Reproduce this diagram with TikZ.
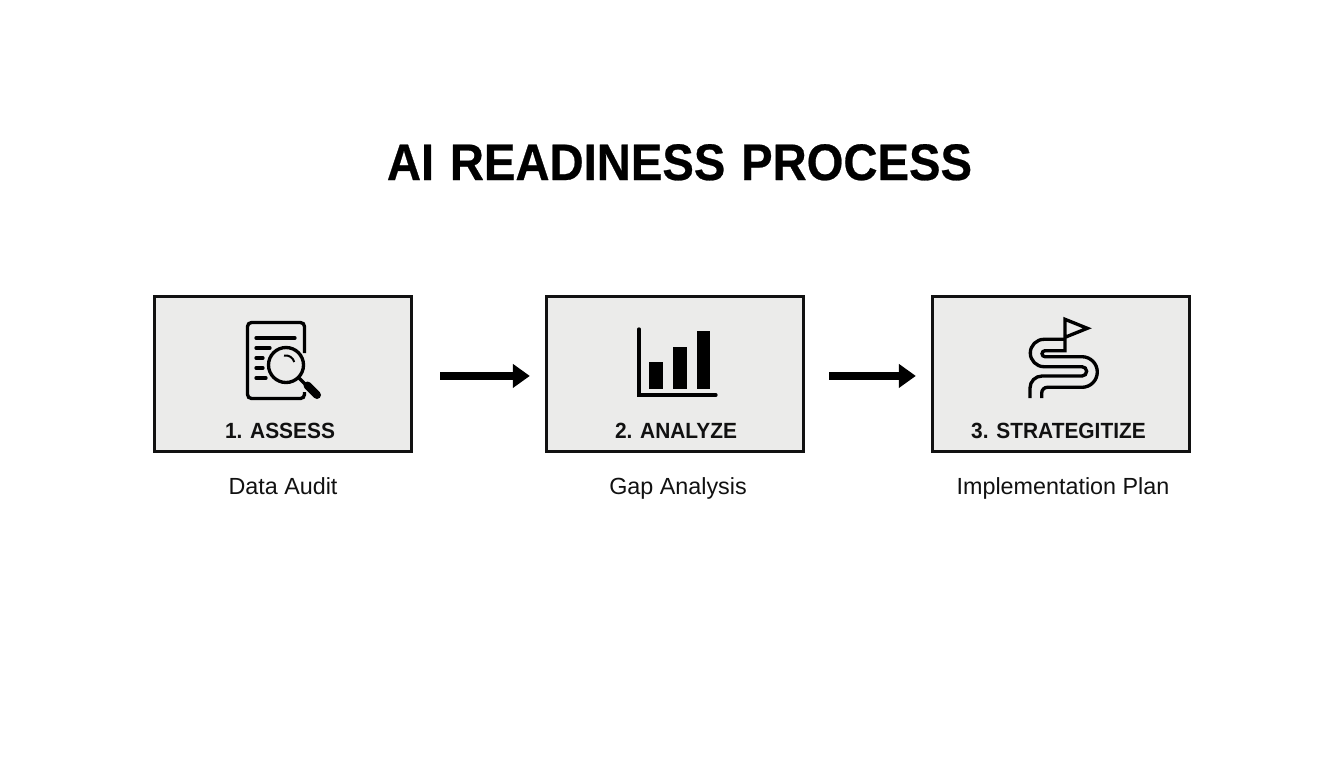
\documentclass[tikz,border=0pt]{standalone}
\usepackage{fontspec}
\setmainfont{Liberation Sans}
\usetikzlibrary{arrows.meta}
\definecolor{boxgray}{HTML}{EBEBEA}
\definecolor{inkblack}{HTML}{111111}
\newfontfamily\titlefont[FakeStretch=0.92,WordSpace=1.2,BoldFeatures={FakeBold=0.5}]{Liberation Sans}
\newfontfamily\stepfont[FakeStretch=0.95]{Liberation Sans}
\tikzset{
	stepbox/.style={draw=inkblack,fill=boxgray,line width=2.25pt,minimum width=193pt,minimum height=116.5pt,inner sep=0pt},
	steplabel/.style={anchor=base,text=inkblack,inner sep=0pt,font=\stepfont\fontsize{16.5}{20}\bfseries},
	caption/.style={anchor=base,text=inkblack,inner sep=0pt,font=\fontsize{17.5}{20}\selectfont},
	flowarrow/.style={draw=black,line width=6pt,-{Triangle[length=12.75pt,width=17.25pt]}},
	icon/.style={draw=black,line width=2.5pt},
}
\begin{document}
\begin{tikzpicture}[x=0.75pt,y=-0.75pt]
	\useasboundingbox (0,0) rectangle (1344,768);
	\node[anchor=base,inner sep=0pt,text=black,font=\titlefont\fontsize{38.5}{48}\bfseries] (title) at (679.5,180) {AI READINESS PROCESS};
	\node[stepbox] (assess) at (283,374.2) {};
	\node[stepbox] (analyze) at (675,374.2) {};
	\node[stepbox] (strategize) at (1061,374.2) {};
	\node[steplabel] (assesslabel) at (280,438.5) {1. ASSESS};
	\node[steplabel] (analyzelabel) at (676,438.5) {2. ANALYZE};
	\node[steplabel] (strategizelabel) at (1058.5,438.5) {3. STRATEGITIZE};
	\node[caption] (audit) at (283,494) {Data Audit};
	\node[caption] (gap) at (678,494) {Gap Analysis};
	\node[caption] (plan) at (1063,494) {Implementation Plan};
	% arrows
	\draw[flowarrow,shorten <=20.25pt,shorten >=11.25pt] ([yshift=-1.3pt]assess.east) -- ([yshift=-1.3pt]analyze.west);
	\draw[flowarrow,shorten <=18pt,shorten >=11.25pt] ([yshift=-1.3pt]analyze.east) -- ([yshift=-1.3pt]strategize.west);
	% document and magnifier
	\draw[icon,rounded corners=3pt] (304.5,353) -- (304.5,322.5) -- (247.5,322.5) -- (247.5,398.5) -- (304.5,398.5) -- (304.5,392);
	\draw[icon,line cap=round] (256,338) -- (295,338);
	\draw[icon,line cap=round] (256,348) -- (270,348);
	\draw[icon,line cap=round] (256,358) -- (263,358);
	\draw[icon,line cap=round] (256,368) -- (263,368);
	\draw[icon,line cap=round] (256,378) -- (266,378);
	\draw[icon,fill=boxgray] (286,365) circle (17.5);
	\draw[icon,line width=1.5pt] (284,355.5) arc[start angle=-100,end angle=-15,radius=9];
	\draw[icon] (298,377) -- (306,385);
	\draw[icon,line width=6pt,line cap=round] (307.5,385.5) -- (317,395);
	% bar chart
	\draw[icon,line cap=round] (639,329) -- (639,395) -- (716,395);
	\fill[black] (649,362) rectangle (662.5,388.5);
	\fill[black] (673,347) rectangle (686.5,388.5);
	\fill[black] (696.5,331) rectangle (710,388.5);
	% winding road with flag
	\draw[icon] (1030,398) -- (1030,388) arc[start angle=180,end angle=270,radius=12] -- (1082,376) arc[start angle=90,end angle=-90,radius=4.65] -- (1044,366.7) arc[start angle=90,end angle=270,radius=13.7] -- (1065,339.3);
	\draw[icon,line join=miter] (1041.7,398) -- (1041.7,393) arc[start angle=180,end angle=270,radius=5.7] -- (1082,387.3) arc[start angle=90,end angle=-90,radius=15.3] -- (1045,356.7) arc[start angle=90,end angle=270,radius=3] -- (1065,350.7) -- (1065,319.3) -- (1087.3,328.3) -- (1065,337.3);
\end{tikzpicture}
\end{document}
